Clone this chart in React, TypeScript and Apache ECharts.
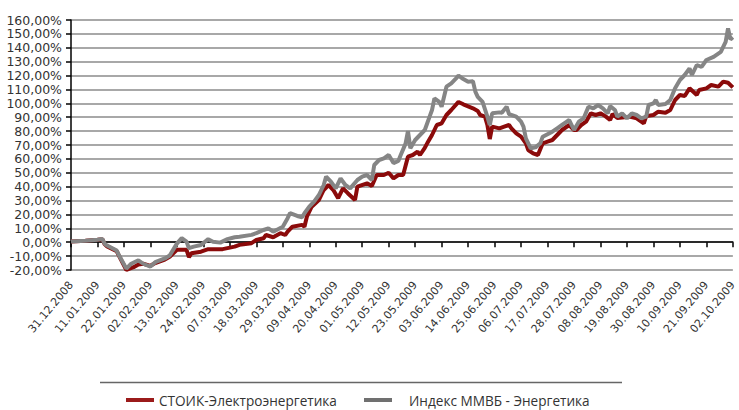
import React, { useEffect, useRef } from "react";
import * as echarts from "echarts";

// Calendar days since 31.12.2008 and the fund / index returns in %
const stoikDays = [0, 6, 11, 13, 14, 15, 19, 20, 23, 26, 28, 30, 33, 35, 39, 41, 44, 48, 49, 50, 54, 57, 63, 68, 70, 75, 77, 80, 81, 84, 87, 89, 90, 92, 96, 97, 98, 100, 103, 105, 107, 109, 111, 113, 115, 118, 119, 123, 125, 127, 130, 132, 134, 136, 138, 140, 142, 144, 145, 147, 148, 150, 152, 154, 156, 158, 161, 163, 167, 169, 170, 172, 173, 174, 175, 178, 180, 182, 183, 185, 187, 189, 190, 192, 194, 196, 198, 200, 202, 204, 207, 209, 210, 212, 214, 216, 218, 220, 222, 224, 225, 227, 232, 235, 238, 239, 242, 244, 247, 249, 251, 253, 255, 257, 260, 261, 264, 266, 269, 271, 273, 275];
const stoikValues = [0.5, 1, 1.8, 2.2, -1.5, -3, -6.5, -10, -20, -18, -16, -15.5, -17, -15, -12.5, -10.5, -5.5, -5.5, -10.8, -8, -6.8, -5, -5, -3.2, -1.9, -0.7, 1.6, 2.9, 5.2, 3.6, 6.5, 5.2, 7.6, 11.2, 12.5, 11.2, 18.4, 25.6, 30.4, 37.6, 41.2, 37.6, 31.7, 38.8, 35.3, 30.4, 40, 42.4, 40.5, 48.4, 48.4, 50, 46, 48.4, 48.4, 61.6, 62.8, 65.2, 62.8, 68, 71.2, 77.2, 84.4, 85.6, 91.6, 95.2, 101, 99.3, 96.4, 94.5, 91.6, 90.4, 84.4, 74.3, 83.2, 82, 83.2, 84.4, 82, 78.4, 76, 71.2, 66.4, 64, 62.8, 71.2, 72.4, 73.6, 77.2, 80.8, 84.4, 80.8, 80.8, 84.4, 86.8, 92.8, 91.6, 92.8, 90.8, 88, 92.3, 89.5, 90.4, 89.2, 85.6, 90.8, 91.6, 94, 93.2, 95.2, 102.4, 106, 105.3, 110.8, 106, 109.6, 110.8, 113.2, 112, 115.6, 114.8, 111.5];

const mmvbDays = [0, 6, 11, 13, 14, 15, 19, 20, 23, 25, 28, 30, 33, 35, 39, 41, 44, 46, 48, 49, 51, 54, 57, 59, 62, 65, 68, 70, 75, 77, 80, 82, 84, 86, 88, 90, 91, 94, 96, 97, 99, 101, 103, 105, 106, 108, 110, 112, 114, 116, 119, 121, 123, 125, 126, 128, 130, 132, 134, 136, 137, 139, 140, 141, 143, 145, 147, 149, 150, 151, 153, 154, 156, 158, 160, 161, 163, 165, 167, 168, 169, 171, 173, 174, 175, 178, 179, 181, 182, 185, 187, 188, 189, 191, 193, 195, 196, 200, 202, 204, 206, 207, 209, 211, 213, 215, 217, 219, 221, 223, 224, 226, 227, 229, 231, 233, 235, 237, 239, 240, 242, 243, 244, 247, 249, 251, 253, 255, 257, 258, 260, 262, 264, 267, 270, 272, 273, 274, 275];
const mmvbValues = [0.5, 1, 1.8, 2.4, -1.2, -2.4, -6, -9.6, -19, -15.5, -13, -15.5, -17.5, -14.4, -11.7, -9.6, -1, 2.9, 0.4, -4.3, -3.2, -2, 2.2, 0.4, -0.3, 2.2, 3.6, 4, 5.3, 6.5, 8.8, 10, 7.6, 9.4, 11.2, 17.3, 20.9, 18.9, 18, 20.9, 25.6, 29.2, 34, 41.2, 47.2, 43.6, 38.8, 46, 41.2, 38.8, 44.8, 47.2, 48.4, 44.8, 55.6, 59.2, 60.4, 62.8, 57, 58.5, 62.8, 71, 80, 67.6, 73.6, 77.2, 80.8, 90.4, 95.2, 103.6, 101, 97.6, 112, 114.4, 118, 120, 117.5, 115.5, 116, 108.4, 104.7, 101, 90.4, 84.4, 92.8, 93.5, 93.2, 97.6, 92.3, 90.4, 86.8, 83.2, 74.8, 67.6, 68.3, 71.2, 76, 79.6, 82, 84.4, 86.8, 88, 80.8, 86.8, 89.2, 97.6, 96.4, 98.8, 96.4, 92.8, 98, 95.2, 90.4, 92.8, 89.2, 92.8, 91.6, 89.2, 90.4, 98.8, 100, 102.4, 98.8, 99.5, 102.4, 110.8, 116.8, 120.4, 125.2, 120.4, 127.6, 126.3, 131.2, 133.5, 137.1, 144.3, 154, 146, 147.5];

const seriesNames = ["СТОИК-Электроэнергетика", "Индекс ММВБ - Энергетика"];
const yMin = -20;
const yMax = 160;
const yStep = 10;
const dayCount = 276;
const labelEvery = 11;

const pad = (n: number) => (n < 10 ? "0" + n : "" + n);
const categories: string[] = [];
for (let i = 0; i < dayCount; i++) {
  const d = new Date(2008, 11, 31 + i);
  categories.push(pad(d.getDate()) + "." + pad(d.getMonth() + 1) + "." + d.getFullYear());
}

export default function App() {
  const ref = useRef<HTMLDivElement>(null);
  useEffect(() => {
    document.body.style.margin = "0";
    if (!ref.current) return;
    const chart = echarts.init(ref.current, undefined, { renderer: "svg" });
    chart.setOption({
      animation: false,
      backgroundColor: "#ffffff",
      grid: { left: 71, right: 1, top: 20, bottom: 140, containLabel: false },
      xAxis: {
        type: "category",
        data: categories,
        boundaryGap: false,
        axisLine: { lineStyle: { color: "#000000", width: 1.5 } },
        axisTick: { show: true, interval: labelEvery - 1, length: 5, lineStyle: { color: "#000000", width: 1.5 } },
        axisLabel: {
          interval: labelEvery - 1,
          rotate: 50,
          margin: 13,
          fontFamily: "DejaVu Sans",
          fontSize: 11,
          color: "#333333",
        },
        splitLine: { show: false },
      },
      yAxis: {
        type: "value",
        min: yMin,
        max: yMax,
        interval: yStep,
        axisLine: { show: true, lineStyle: { color: "#000000", width: 1.5 } },
        axisTick: { show: true, length: 5, lineStyle: { color: "#000000", width: 1.5 } },
        axisLabel: {
          margin: 9,
          fontFamily: "DejaVu Sans",
          fontSize: 12.5,
          color: "#333333",
          formatter: (v: number) => v.toFixed(2).replace(".", ",") + "%",
        },
        splitLine: { show: true, lineStyle: { color: "#a8a8a8", width: 2 } },
      },
      legend: [
        {
          data: [seriesNames[0]],
          left: 126,
          top: 392,
          icon: "rect",
          itemWidth: 28,
          itemHeight: 4,
          padding: 0,
          textStyle: { fontFamily: "Open Sans", fontSize: 13.6, color: "#333333", lineHeight: 16 },
        },
        {
          data: [seriesNames[1]],
          left: 364,
          top: 392,
          icon: "rect",
          itemWidth: 28,
          itemHeight: 4,
          padding: 0,
          textStyle: { fontFamily: "Open Sans", fontSize: 13.6, color: "#333333", lineHeight: 16, padding: [0, 0, 0, 12] },
        },
      ],
      graphic: [
        {
          type: "line",
          shape: { x1: 100, y1: 382.5, x2: 622, y2: 382.5 },
          style: { stroke: "#666666", lineWidth: 1.5 },
        },
      ],
      series: [
        {
          name: seriesNames[0],
          type: "line",
          data: stoikDays.map((d, i) => [d, stoikValues[i]]),
          showSymbol: false,
          symbol: "none",
          lineStyle: { color: "#8b0a0a", width: 4 },
          itemStyle: { color: "#9b1b1b" },
        },
        {
          name: seriesNames[1],
          type: "line",
          data: mmvbDays.map((d, i) => [d, mmvbValues[i]]),
          showSymbol: false,
          symbol: "none",
          lineStyle: { color: "#858585", width: 4 },
          itemStyle: { color: "#707070" },
        },
      ],
    });
    return () => chart.dispose();
  }, []);
  return <div ref={ref} style={{ width: 739, height: 410 }} />;
}
